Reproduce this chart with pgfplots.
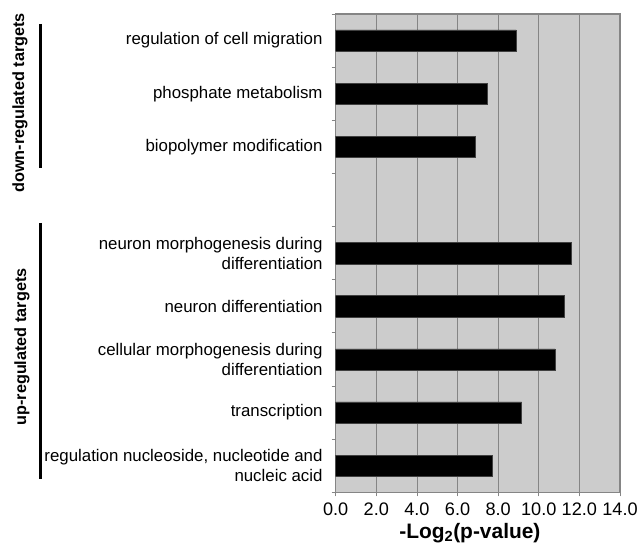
\documentclass[border=0pt]{standalone}
\usepackage{fontspec}
\setmainfont{Liberation Sans}
\usepackage{pgfplots}
\pgfplotsset{compat=1.18}

\definecolor{plotbg}{HTML}{CCCCCC}
\definecolor{gridgray}{HTML}{858585}

\begin{document}
\begin{tikzpicture}
    \useasboundingbox (0,0) rectangle (639bp,560bp);
    \begin{axis}[
        at={(335.7bp,546bp)},
        anchor=north west,
        scale only axis,
        width=284.3bp,
        height=478.3bp,
        xbar,
        bar width=0.4,
        y dir=reverse,
        xmin=0, xmax=14,
        ymin=-0.5, ymax=8.5,
        enlargelimits=false,
        axis background/.style={fill=plotbg},
        axis line style={gridgray, line width=1.2pt},
        xmajorgrids=true,
        grid style={gridgray, line width=0.8pt},
        xtick={0,2,...,14},
        ytick={0,...,8},
        yticklabels={
            regulation of cell migration,
            phosphate metabolism,
            biopolymer modification,
            {},
            {neuron morphogenesis during\\differentiation},
            neuron differentiation,
            {cellular morphogenesis during\\differentiation},
            transcription,
            {regulation nucleoside, nucleotide and\\nucleic acid}
        },
        minor ytick={-0.5,0.5,...,8.5},
        major tick length=0pt,
        minor tick length=4bp,
        tick align=outside,
        tick pos=left,
        tick style={gridgray, line width=0.8pt},
        extra x ticks={0,2,...,14},
        extra x tick labels={},
        extra x tick style={major tick length=4bp, grid=none},
        xticklabel style={anchor=north, inner sep=0pt, yshift=-10.5bp,
            font=\fontsize{18.2}{22}\selectfont},
        /pgf/number format/assume math mode=true,
        /pgf/number format/fixed,
        /pgf/number format/fixed zerofill,
        /pgf/number format/precision=1,
        yticklabel style={anchor=east, inner sep=0pt, xshift=-13bp,
            align=right, font=\fontsize{16.9}{20}\selectfont},
        xlabel={-Log\textsubscript{2}(p-value)},
        xlabel style={at={(axis description cs:0.472,0)}, anchor=north,
            inner sep=0pt, yshift=-30.5bp,
            font=\bfseries\fontsize{21}{24}\selectfont},
    ]
    \addplot[fill=black, draw=black!75, line width=0.5pt] coordinates {
        (8.89,0) (7.44,1) (6.89,2)
        (11.60,4) (11.26,5) (10.81,6) (9.16,7) (7.73,8)
    };
    \end{axis}
    \draw[line width=3bp] (40bp,536bp) -- (40bp,392bp);
    \draw[line width=3bp] (40bp,337bp) -- (40bp,81bp);
    \node[rotate=90, font=\bfseries\fontsize{16.3}{19}\selectfont]
        at (20bp,457bp) {down-regulated targets};
    \node[rotate=90, font=\bfseries\fontsize{16.3}{19}\selectfont]
        at (22bp,213bp) {up-regulated targets};
\end{tikzpicture}
\end{document}
